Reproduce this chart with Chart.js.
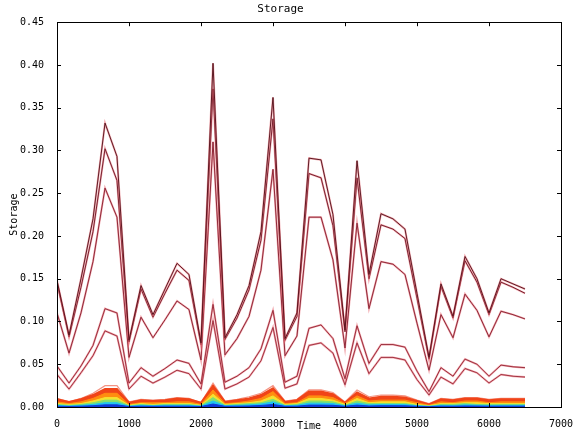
<!DOCTYPE html>
<html>
<head>
<meta charset="utf-8">
<script src="https://cdn.jsdelivr.net/npm/chart.js@4.4.0/dist/chart.umd.min.js"></script>
<style>
  body { margin: 0; background: #fff; }
  #wrap { width: 586px; height: 433px; }
</style>
</head>
<body>
<div id="wrap"><canvas id="c" width="586" height="433"></canvas></div>
<script>
// time steps (x)
const times = [0,167,333,500,667,833,1000,1167,1333,1500,1667,1833,2000,2167,2333,2500,2667,2833,3000,3167,
  3333,3500,3667,3833,4000,4167,4333,4500,4667,4833,5000,5167,5333,5500,5667,5833,6000,6167,6333,6500];

// upper (red) series
const line1 = [0.148,0.084,0.150,0.220,0.332,0.293,0.078,0.142,0.108,0.138,0.168,0.155,0.075,0.402,0.081,0.108,0.142,0.205,0.362,0.080,
  0.110,0.291,0.289,0.225,0.090,0.288,0.155,0.226,0.220,0.208,0.133,0.058,0.144,0.106,0.176,0.150,0.110,0.150,0.144,0.138];
const line2 = [0.145,0.082,0.140,0.205,0.302,0.265,0.076,0.138,0.105,0.133,0.160,0.148,0.073,0.372,0.079,0.104,0.137,0.195,0.337,0.078,
  0.106,0.273,0.268,0.212,0.088,0.268,0.150,0.213,0.208,0.197,0.127,0.056,0.141,0.104,0.171,0.146,0.108,0.146,0.140,0.133];
const line3 = [0.110,0.063,0.110,0.170,0.256,0.222,0.058,0.105,0.081,0.102,0.124,0.114,0.055,0.310,0.061,0.080,0.106,0.160,0.278,0.060,
  0.083,0.222,0.222,0.172,0.069,0.215,0.115,0.170,0.167,0.155,0.098,0.043,0.108,0.081,0.132,0.113,0.082,0.112,0.108,0.103];
const line4 = [0.048,0.028,0.048,0.072,0.115,0.110,0.028,0.046,0.036,0.045,0.055,0.051,0.027,0.120,0.029,0.036,0.046,0.068,0.113,0.029,
  0.036,0.092,0.096,0.080,0.033,0.095,0.051,0.073,0.073,0.070,0.042,0.018,0.046,0.036,0.056,0.050,0.036,0.049,0.047,0.046];
const line5 = [0.038,0.021,0.040,0.060,0.089,0.083,0.021,0.036,0.028,0.035,0.043,0.039,0.021,0.101,0.021,0.027,0.035,0.054,0.093,0.022,
  0.027,0.072,0.075,0.063,0.026,0.075,0.039,0.058,0.058,0.055,0.032,0.014,0.035,0.027,0.045,0.040,0.028,0.038,0.036,0.035];

// lower band series
const bandTop = [0.010,0.006,0.010,0.016,0.025,0.025,0.006,0.009,0.008,0.009,0.011,0.010,0.005,0.028,0.007,0.009,0.012,0.016,0.025,0.007,
  0.009,0.020,0.020,0.017,0.006,0.020,0.012,0.014,0.014,0.013,0.008,0.004,0.010,0.009,0.011,0.011,0.009,0.010,0.010,0.010];
const bandRed = [0.009,0.006,0.009,0.014,0.021,0.021,0.005,0.008,0.007,0.008,0.010,0.009,0.005,0.025,0.006,0.008,0.010,0.014,0.022,0.006,
  0.008,0.018,0.018,0.015,0.005,0.017,0.010,0.012,0.012,0.011,0.007,0.003,0.009,0.008,0.010,0.010,0.008,0.009,0.009,0.009];
const bandOrange = [0.006,0.004,0.006,0.010,0.016,0.016,0.003,0.005,0.005,0.005,0.006,0.006,0.003,0.020,0.004,0.005,0.007,0.010,0.018,0.004,
  0.005,0.013,0.013,0.011,0.004,0.013,0.007,0.008,0.008,0.008,0.005,0.002,0.006,0.005,0.007,0.007,0.005,0.006,0.006,0.006];
const bandYellow = [0.004,0.003,0.004,0.007,0.011,0.011,0.002,0.004,0.003,0.004,0.004,0.004,0.002,0.015,0.003,0.004,0.005,0.007,0.013,0.003,
  0.004,0.010,0.010,0.008,0.003,0.010,0.005,0.006,0.006,0.006,0.003,0.0015,0.004,0.004,0.005,0.005,0.004,0.004,0.004,0.004];
const bandGreen = [0.003,0.002,0.003,0.005,0.008,0.008,0.0015,0.003,0.002,0.003,0.003,0.003,0.0015,0.011,0.002,0.003,0.004,0.005,0.009,0.002,
  0.003,0.007,0.007,0.006,0.002,0.007,0.004,0.004,0.004,0.004,0.002,0.001,0.003,0.003,0.004,0.003,0.003,0.003,0.003,0.003];
const bandCyan = [0.002,0.0012,0.002,0.003,0.005,0.005,0.001,0.002,0.0015,0.002,0.002,0.002,0.001,0.007,0.0015,0.002,0.0025,0.0035,0.006,0.0015,
  0.002,0.0045,0.0045,0.004,0.0015,0.0045,0.0025,0.003,0.003,0.0028,0.0015,0.0007,0.002,0.0018,0.0025,0.0022,0.0018,0.002,0.002,0.002];
const bandBlue = [0.001,0.0006,0.001,0.0015,0.0025,0.0025,0.0005,0.001,0.0008,0.001,0.001,0.001,0.0005,0.0035,0.0008,0.001,0.0012,0.0018,0.003,0.0008,
  0.001,0.0022,0.0022,0.002,0.0008,0.0022,0.0012,0.0015,0.0015,0.0014,0.0008,0.0004,0.001,0.0009,0.0012,0.0011,0.0009,0.001,0.001,0.001];

const xTicks = [0,1000,2000,3000,4000,5000,6000,7000];
const yTicks = [0,0.05,0.10,0.15,0.20,0.25,0.30,0.35,0.40,0.45];

const pts = arr => arr.map((v, i) => ({ x: times[i], y: v }));
const FONT = 'DejaVu Sans Mono';

const datasets = [];
function addBand(data, color, order, fill, width) {
  datasets.push({
    data: pts(data), borderColor: color, backgroundColor: color,
    borderWidth: width, fill: fill ? 'origin' : false, order: order
  });
}
addBand(bandTop, '#f49484', 100, false, 1.2);
addBand(bandRed, '#f04418', 90, true, 2);
addBand(bandOrange, '#ff8c10', 80, true, 1);
addBand(bandYellow, '#f4e030', 70, true, 1);
addBand(bandGreen, '#80e070', 60, true, 1);
addBand(bandCyan, '#20c4f0', 50, true, 1);
addBand(bandBlue, '#1038d8', 40, true, 1);

// upper lines: pink halo + dark core
[[line5, '#9a2838'], [line4, '#922232'], [line3, '#841c2c'], [line2, '#6a1422'], [line1, '#4e0c16']].forEach((p, k) => {
  datasets.push({ data: pts(p[0]), borderColor: 'rgba(232,96,108,0.55)', borderWidth: 2, fill: false, order: 30 - k * 2 });
  datasets.push({ data: pts(p[0]), borderColor: p[1], borderWidth: 0.9, fill: false, order: 29 - k * 2 });
});

// box + inward ticks on all four sides
const frame = {
  id: 'frame',
  afterDatasetsDraw(chart) {
    const { ctx, chartArea: a, scales } = chart;
    ctx.save();
    ctx.strokeStyle = '#000';
    ctx.lineWidth = 1;
    ctx.strokeRect(Math.round(a.left) + 0.5, Math.round(a.top) + 0.5, Math.round(a.right - a.left), Math.round(a.bottom - a.top));
    ctx.beginPath();
    xTicks.forEach(t => {
      const x = Math.round(scales.x.getPixelForValue(t)) + 0.5;
      ctx.moveTo(x, a.bottom); ctx.lineTo(x, a.bottom - 4);
      ctx.moveTo(x, a.top); ctx.lineTo(x, a.top + 4);
    });
    yTicks.forEach(t => {
      const y = Math.round(scales.y.getPixelForValue(t)) + 0.5;
      ctx.moveTo(a.left, y); ctx.lineTo(a.left + 4, y);
      ctx.moveTo(a.right, y); ctx.lineTo(a.right - 4, y);
    });
    ctx.stroke();
    ctx.restore();
  }
};

new Chart(document.getElementById('c'), {
  type: 'line',
  data: { datasets },
  plugins: [frame],
  options: {
    responsive: false,
    animation: false,
    layout: { padding: { left: 0, right: 25, top: 0, bottom: 0 } },
    elements: { point: { radius: 0 }, line: { tension: 0 } },
    plugins: {
      legend: { display: false },
      tooltip: { enabled: false },
      title: {
        display: true, text: 'Storage', color: '#000',
        font: { family: FONT, size: 11, weight: 'normal' },
        padding: { top: 3, bottom: 6 }
      }
    },
    scales: {
      x: {
        type: 'linear', min: 0, max: 7000,
        afterBuildTicks: s => { s.ticks = xTicks.map(v => ({ value: v })); },
        afterFit: s => { s.height = 26; },
        grid: { display: false }, border: { display: false },
        ticks: { color: '#000', font: { family: FONT, size: 10 }, padding: 3, maxRotation: 0, callback: v => String(v) },
        title: { display: true, text: 'Time', color: '#000', font: { family: FONT, size: 10 }, padding: { top: 0, bottom: 1 } }
      },
      y: {
        type: 'linear', min: 0, max: 0.45,
        afterBuildTicks: s => { s.ticks = yTicks.map(v => ({ value: v })); },
        afterFit: s => { s.width = 57; },
        grid: { display: false }, border: { display: false },
        ticks: { color: '#000', font: { family: FONT, size: 10 }, padding: 5, callback: v => v.toFixed(2) },
        title: { display: true, text: 'Storage', color: '#000', font: { family: FONT, size: 10 }, padding: { top: 8, bottom: 0 } }
      }
    }
  }
});
</script>
</body>
</html>
